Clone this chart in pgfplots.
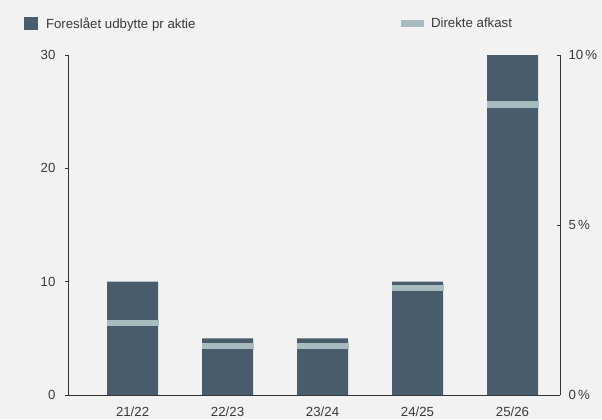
\documentclass[border=0pt]{standalone}
\usepackage{pgfplots}
\pgfplotsset{compat=1.18}
\usepackage{fontspec}
\setmainfont{Liberation Sans}
\definecolor{bg}{HTML}{F2F2F2}
\definecolor{barc}{HTML}{485C6B}
\definecolor{yc}{HTML}{A8BCBF}
\definecolor{txt}{HTML}{3A3A3A}
\definecolor{axc}{HTML}{333333}
\begin{document}
\begin{tikzpicture}[x=1bp,y=1bp]
\fill[bg] (-68,-24) rectangle (534,395);
\useasboundingbox (-68,-24) rectangle (534,395);
\pgfplotsset{
  common/.style={
    scale only axis, width=492bp, height=340bp,
    at={(0,0)}, anchor=south west,
    xmin=-0.68, xmax=4.5,
    /pgf/number format/assume math mode=true,
    tick label style={font=\fontsize{13.3}{15}\selectfont, text=txt},
    legend style={font=\fontsize{13.3}{15}\selectfont, text=txt, draw=none, fill=none, inner sep=0pt, outer sep=0pt},
  }
}
\begin{axis}[common,
    ymin=0, ymax=30, ytick={0,10,20,30},
    axis y line*=left, axis x line*=bottom,
    axis line style={draw=axc, line width=0.8bp, -},
    tick align=outside, major tick length=3bp,
    tick style={draw=axc, line width=0.8bp},
    xtick={0,1,2,3,4}, xticklabels={21/22,22/23,23/24,24/25,25/26},
    x tick style={draw=none},
    xticklabel style={yshift=-5bp},
    yticklabel style={xshift=-6bp},
    ybar, bar width=51bp,
    legend style={at={(-0.0894,1.0926)}, anchor=west},
    legend image code/.code={\fill[barc] (0bp,-6.5bp) rectangle (14bp,6.5bp); \path (20bp,0);},
  ]
\addplot[fill=barc, draw=none] coordinates {(0,10) (1,5) (2,5) (3,10) (4,30)};
\addlegendentry{Foreslået udbytte pr aktie}
\end{axis}
\begin{axis}[common,
    ymin=0, ymax=10, ytick={0,5,10}, yticklabels={0\,\%,5\,\%,10\,\%},
    axis y line*=right, axis x line=none,
    axis line style={draw=axc, line width=0.8bp, -},
    tick align=inside, major tick length=3bp,
    tick style={draw=axc, line width=0.8bp},
    yticklabel style={xshift=5bp},
    legend style={at={(0.9065,1.0926)}, anchor=east},
    legend image code/.code={\fill[yc] (0bp,-3bp) rectangle (22bp,3bp); \path (28bp,0);},
  ]
\addplot[only marks, mark=-, mark size=26bp, mark options={draw=yc, line width=6.5bp}] coordinates {(0,2.12) (1,1.44) (2,1.44) (3,3.15) (4,8.54)};
\addlegendentry{Direkte afkast}
\end{axis}
\end{tikzpicture}
\end{document}
